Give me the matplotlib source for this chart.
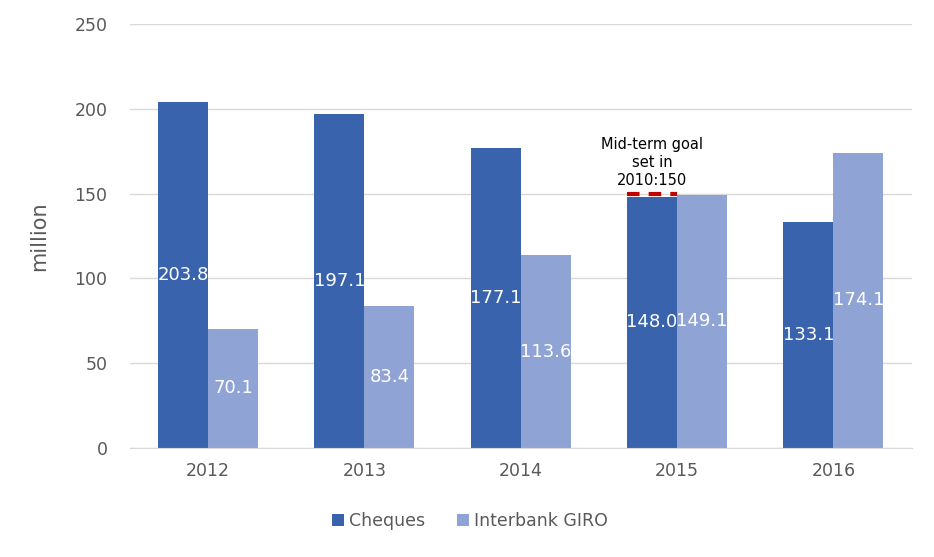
import numpy as np
import matplotlib.pyplot as plt

years = ['2012', '2013', '2014', '2015', '2016']
cheques = [203.8, 197.1, 177.1, 148.0, 133.1]
giro = [70.1, 83.4, 113.6, 149.1, 174.1]
goal = 150
goal_year = '2015'

c_cheq = '#3A63AD'
c_giro = '#8FA3D4'
grey = '#595959'

fig = plt.figure(figsize=(9.34, 5.57), dpi=100)
ax = fig.add_axes([0.139, 0.196, 0.837, 0.761])

x = np.arange(len(years))
w = 0.32
b1 = ax.bar(x - w/2, cheques, w, color=c_cheq, label='Cheques', zorder=2)
b2 = ax.bar(x + w/2, giro, w, color=c_giro, label='Interbank GIRO', zorder=2)

# value labels in the middle of each bar
for bars, vals in [(b1, cheques), (b2, giro)]:
    for r, v in zip(bars, vals):
        ax.text(r.get_x() + r.get_width()/2, v/2, f'{v:.1f}', ha='center', va='center',
                color='white', fontsize=13, zorder=3)

# mid-term goal marker over the cheques bar
gi = years.index(goal_year)
ax.hlines(goal, gi - w, gi, colors='#C00000', linestyles=(0, (3, 2.2)), linewidth=3, zorder=3)
ax.text(gi - w/2, goal + 3.5, 'Mid-term goal\nset in\n2010:150', ha='center', va='bottom',
        fontsize=10.5, color='black', linespacing=1.25, zorder=4)

ax.set_ylim(0, 250)
ax.set_yticks(range(0, 251, 50))
ax.set_xlim(-0.5, len(years) - 0.5)
ax.set_xticks(x)
ax.set_xticklabels(years)
ax.yaxis.grid(True, color='#D9D9D9', linewidth=1, zorder=0)
ax.set_axisbelow(True)
for s in ['top', 'right', 'left']:
    ax.spines[s].set_visible(False)
ax.spines['bottom'].set_color('#D9D9D9')
ax.tick_params(axis='both', length=0, labelsize=12.5, labelcolor=grey, pad=10)
ax.tick_params(axis='y', pad=16)
ax.set_ylabel('million', fontsize=15, color=grey, labelpad=18)

fig.legend(handles=[b1, b2], loc='center', bbox_to_anchor=(0.503, 0.065), ncol=2,
           frameon=False, fontsize=12.5, labelcolor=grey, handlelength=0.7, handleheight=0.7,
           handletextpad=0.3, columnspacing=1.8)

fig.savefig('out.png', dpi=100)
